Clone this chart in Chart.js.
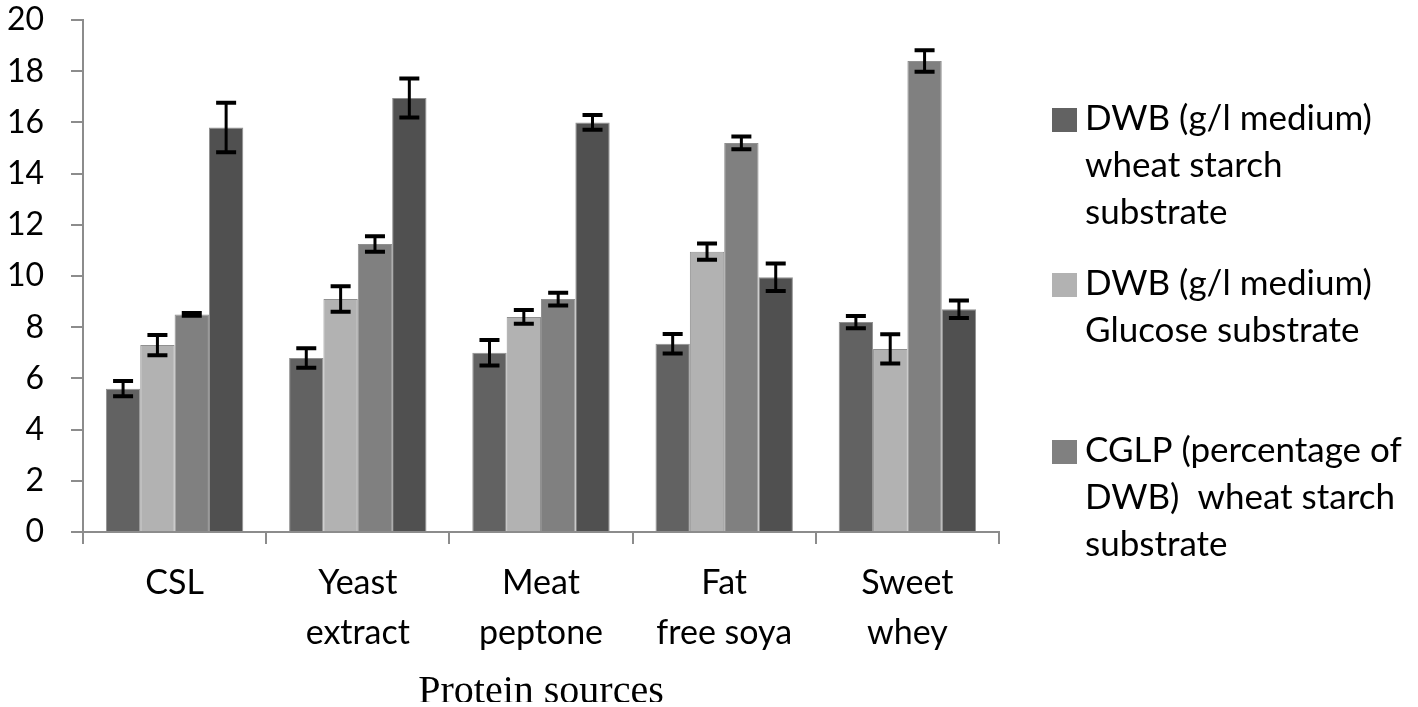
<!DOCTYPE html>
<html lang="en">
<head>
  <meta charset="UTF-8" />
  <title>Protein sources</title>
  <script src="https://cdn.jsdelivr.net/npm/chart.js"></script>
  <style>
    html, body { margin: 0; padding: 0; background: #fff; }
    #wrap { width: 1418px; height: 707px; position: relative; }
  </style>
</head>
<body>
<div id="wrap"><canvas id="proteinChart"></canvas></div>
<script>
  // data
  const categories = ['CSL', ['Yeast', 'extract'], ['Meat', 'peptone'], ['Fat', 'free soya'], ['Sweet', 'whey']];
  const seriesNames = [
    ['DWB (g/l medium)', 'wheat starch', 'substrate'],
    ['DWB (g/l medium)', 'Glucose substrate'],
    ['CGLP (percentage of', 'DWB)  wheat starch', 'substrate'],
    ['CGLP (percentage of', 'DWB) Glucose substrate']
  ];
  const dwbStarch   = [5.6, 6.8, 7.0, 7.35, 8.2];
  const dwbGlucose  = [7.3, 9.1, 8.4, 10.95, 7.15];
  const cglpStarch  = [8.5, 11.25, 9.1, 15.2, 18.4];
  const cglpGlucose = [15.8, 16.95, 16.0, 9.95, 8.7];
  const errStarch   = [0.3, 0.38, 0.5, 0.38, 0.24];
  const errGlucose  = [0.4, 0.5, 0.27, 0.32, 0.57];
  const errCglpS    = [0.05, 0.3, 0.25, 0.25, 0.42];
  const errCglpG    = [0.97, 0.76, 0.29, 0.54, 0.34];
  const yTicks = [0, 2, 4, 6, 8, 10, 12, 14, 16, 18, 20];

  const colors = ['#626262', '#b2b2b2', '#808080', '#505050'];
  const values = [dwbStarch, dwbGlucose, cglpStarch, cglpGlucose];
  const errors = [errStarch, errGlucose, errCglpS, errCglpG];
  const legendCount = 3; // the fourth entry is cut off in the original

  // error bars drawn from the data via the y scale
  const errorBars = {
    id: 'errorBars',
    afterDatasetsDraw(chart) {
      const ctx = chart.ctx;
      const y = chart.scales.y;
      ctx.save();
      ctx.strokeStyle = '#000';
      chart.data.datasets.forEach((ds, i) => {
        const meta = chart.getDatasetMeta(i);
        meta.data.forEach((bar, j) => {
          const v = ds.data[j], e = ds.errors[j];
          const top = y.getPixelForValue(v + e);
          const bot = y.getPixelForValue(v - e);
          ctx.lineWidth = 3;
          ctx.beginPath();
          ctx.moveTo(bar.x, top);
          ctx.lineTo(bar.x, bot);
          ctx.stroke();
          ctx.lineWidth = 4;
          ctx.beginPath();
          ctx.moveTo(bar.x - 10, top); ctx.lineTo(bar.x + 10, top);
          ctx.moveTo(bar.x - 10, bot); ctx.lineTo(bar.x + 10, bot);
          ctx.stroke();
        });
      });
      ctx.restore();
    }
  };

  // legend on the right with wrapped names
  const sideLegend = {
    id: 'sideLegend',
    afterDraw(chart) {
      const ctx = chart.ctx;
      const x0 = chart.chartArea.right + 53;
      const starts = [130, 295, 462];
      ctx.save();
      ctx.font = '35px Lato';
      ctx.fillStyle = '#000';
      ctx.textBaseline = 'alphabetic';
      for (let i = 0; i < legendCount; i++) {
        ctx.fillStyle = colors[i];
        ctx.fillRect(x0, starts[i] - 22, 25, 24);
        ctx.fillStyle = '#000';
        seriesNames[i].forEach((line, k) => {
          ctx.fillText(line, x0 + 33, starts[i] + k * 47);
        });
      }
      ctx.restore();
    }
  };

  // axis title, clipped at the bottom like the original
  const axisTitle = {
    id: 'axisTitle',
    afterDraw(chart) {
      const ctx = chart.ctx;
      const a = chart.chartArea;
      ctx.save();
      ctx.beginPath();
      ctx.rect(0, 0, chart.width, 702);
      ctx.clip();
      ctx.font = '40px "Liberation Serif"';
      ctx.fillStyle = '#000';
      ctx.textAlign = 'center';
      ctx.fillText('Protein sources', (a.left + a.right) / 2, 703);
      ctx.restore();
    }
  };

  const ctx = document.getElementById('proteinChart').getContext('2d');
  new Chart(ctx, {
    type: 'bar',
    data: {
      labels: categories,
      datasets: values.map((d, i) => ({
        label: seriesNames[i].join(' '),
        data: d,
        errors: errors[i],
        backgroundColor: colors[i],
        borderColor: '#909090',
        borderWidth: 1,
        categoryPercentage: 0.75,
        barPercentage: 1
      }))
    },
    options: {
      animation: false,
      responsive: true,
      maintainAspectRatio: false,
      layout: { padding: { top: 20, right: 419, left: 0, bottom: 0 } },
      plugins: {
        legend: { display: false },
        tooltip: { enabled: false }
      },
      scales: {
        x: {
          afterFit(s) { s.height = 175; },
          border: { color: '#8c8c8c', width: 2 },
          grid: { offset: true, drawOnChartArea: false, tickLength: 12, color: '#8c8c8c', lineWidth: 2 },
          ticks: { color: '#000', font: { family: 'Lato', size: 34, lineHeight: 1.47 }, padding: 14, maxRotation: 0 }
        },
        y: {
          min: 0,
          max: 20,
          afterFit(s) { s.width = 83; s.paddingTop = 0; s.paddingBottom = 0; },
          afterBuildTicks(s) { s.ticks = yTicks.map(v => ({ value: v })); },
          border: { color: '#8c8c8c', width: 2 },
          grid: { drawOnChartArea: false, tickLength: 12, color: '#8c8c8c', lineWidth: 2 },
          ticks: { color: '#000', font: { family: 'Lato', size: 32 }, padding: 27 }
        }
      }
    },
    plugins: [errorBars, sideLegend, axisTitle]
  });
</script>
</body>
</html>
